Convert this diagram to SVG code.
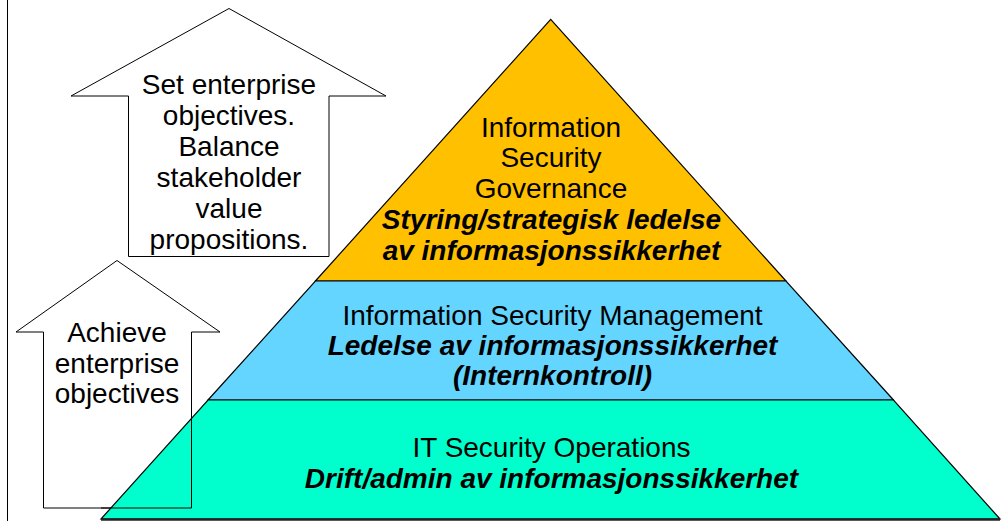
<svg xmlns="http://www.w3.org/2000/svg" width="1007" height="521" viewBox="0 0 1007 521">
<style>
.t{font-family:"Liberation Sans",Arial,sans-serif;font-size:28px;fill:#000;text-anchor:middle}
.b{font-weight:bold;font-style:italic}
.arrow{fill:#fff;stroke:#000;stroke-width:1}
.outline{fill:none;stroke:#000;stroke-width:1}
.layer{stroke:#000;stroke-width:1.2}
</style>
<rect x="0" y="0" width="1007" height="521" fill="#fff"/>
<line x1="7.5" y1="0" x2="7.5" y2="521" stroke="#000" stroke-width="1"/>
<g id="arrow-set">
<polygon class="arrow" points="229,8.5 386,96 329,96 329,256.5 128.5,256.5 128.5,96 71,96"/>
<text class="t" x="229" y="94">Set enterprise</text>
<text class="t" x="229" y="125">objectives.</text>
<text class="t" x="229" y="156">Balance</text>
<text class="t" x="229" y="187">stakeholder</text>
<text class="t" x="229" y="218">value</text>
<text class="t" x="229" y="249">propositions.</text>
</g>
<g id="arrow-achieve">
<polygon class="arrow" points="117,260.5 220,332 191.5,332 191.5,508 43.5,508 43.5,332 16,332"/>
<text class="t" x="117" y="342">Achieve</text>
<text class="t" x="117" y="373">enterprise</text>
<text class="t" x="117" y="403">objectives</text>
</g>
<g id="layer-governance">
<polygon class="layer" fill="#FFC000" points="550.7,19.3 786,281 315.4,281"/>
<text class="t" x="551" y="137">Information</text>
<text class="t" x="551" y="167">Security</text>
<text class="t" x="551" y="198">Governance</text>
<text class="t b" x="551.5" y="229">Styring/strategisk ledelse</text>
<text class="t b" x="551.5" y="260">av informasjonssikkerhet</text>
</g>
<g id="layer-management">
<polygon class="layer" fill="#63D5FF" points="315.4,281 786,281 893.5,400 208,400"/>
<text class="t" x="552.5" y="325">Information Security Management</text>
<text class="t b" x="552.5" y="355">Ledelse av informasjonssikkerhet</text>
<text class="t b" x="552.5" y="385">(Internkontroll)</text>
</g>
<g id="layer-operations">
<polygon class="layer" fill="#00FFCC" points="208,400 893.5,400 1000,519 101,519"/>
<text class="t" x="551.5" y="457">IT Security Operations</text>
<text class="t b" x="551.5" y="488">Drift/admin av informasjonssikkerhet</text>
</g>
<g id="connectors">
<polyline class="outline" points="191.5,400 191.5,508 101,508"/>
<line x1="101" y1="519.5" x2="1000" y2="519.5" stroke="#222" stroke-width="2.5"/>
</g>
</svg>
